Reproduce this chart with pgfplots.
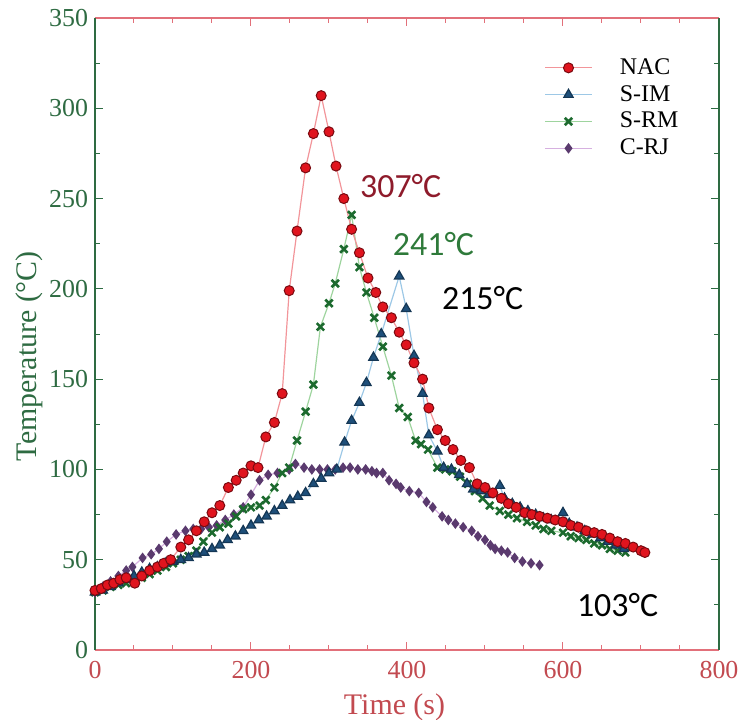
\documentclass[border=0pt]{standalone}
\usepackage{fontspec}
\setmainfont{Liberation Serif}
\newfontfamily\annfont{Carlito}
\usepackage{pgfplots}
\pgfplotsset{compat=1.18}

\definecolor{nacfill}{HTML}{E0141E}
\definecolor{nacedge}{HTML}{7A0A10}
\definecolor{nacline}{HTML}{F2959A}
\definecolor{imfill}{HTML}{1E4F7A}
\definecolor{imline}{HTML}{9DC8E6}
\definecolor{rmmark}{HTML}{1C6A2E}
\definecolor{rmline}{HTML}{9ED49E}
\definecolor{rjmark}{HTML}{5A3A6E}
\definecolor{rjline}{HTML}{D6B0E0}
\definecolor{axred}{HTML}{E2707A}
\definecolor{axgreen}{HTML}{2E6B42}
\definecolor{lblred}{HTML}{C24A50}
\definecolor{t307}{HTML}{8E1B2B}
\definecolor{t241}{HTML}{2E7A3A}

\begin{document}
\begin{tikzpicture}
\useasboundingbox (-47.5bp,-35bp) rectangle (321.5bp,325bp);
\begin{axis}[
  at={(0,0)}, anchor=south west,
  width=312bp, height=316bp, scale only axis,
  xmin=0, xmax=800, ymin=0, ymax=350,
  xtick={0,200,...,800}, ytick={0,50,...,350},
  minor x tick num=3, minor y tick num=1,
  separate axis lines,
  x axis line style={axred, line width=0.9bp},
  y axis line style={axgreen, line width=0.9bp},
  x tick style={axred, line width=0.5bp},
  y tick style={axgreen, line width=0.5bp},
  major tick length=4bp, minor tick length=2.5bp,
  /pgf/number format/assume math mode=true,
  xticklabel style={font=\fontsize{13}{13}\selectfont, text=lblred, yshift=-2bp},
  yticklabel style={font=\fontsize{13}{13}\selectfont, text=axgreen},
  xlabel={Time (s)},
  ylabel={Temperature (°C)},
  xlabel style={font=\fontsize{15}{15}\selectfont, text=lblred,
    at={(axis description cs:0.48,-0.090)}, anchor=center},
  ylabel style={font=\fontsize{15}{15}\selectfont, text=axgreen,
    at={(axis description cs:-0.106,0.465)}, anchor=center},
  legend style={at={(rel axis cs:0.71,0.948)}, anchor=north west,
    draw=none, fill=none, font=\fontsize{12}{12}\selectfont,
    nodes={inner sep=1.6bp}, row sep=0.8bp},
  legend cell align=left,
  /tikz/every odd column/.append style={column sep=12bp},
  legend image code/.code={\draw[mark repeat=2,mark phase=2]
    plot coordinates {(0bp,0bp) (11.75bp,0bp) (23.5bp,0bp)};},
  reverse legend,
]

% C-RJ
\addplot[rjline, line width=0.6bp, mark=diamond*, mark size=2.2bp,
  mark options={fill=rjmark, draw=rjmark}] coordinates {
(0,32) (10,35) (20,38) (30,41) (40,44) (48,46) (61,51) (72,53) (82,56)
(92,60) (104,64) (116,66) (126,67) (136,67) (146,68) (156,69) (167,72)
(178,75) (190,79) (200,86) (211,94) (222,97) (234,98) (249,100) (257,103)
(268,101) (278,100) (288,100) (298,100) (308,100) (318,101) (327,101)
(337,100) (347,100) (355,99) (361,98) (369,98) (377,94) (386,92) (392,90)
(403,88) (415,87) (425,82) (433,79) (445,74) (453,72) (462,70) (472,68)
(483,66) (491,63) (500,61) (507,58) (513,56) (521,55) (529,54) (538,51)
(548,49) (559,48) (570,47)};

% S-RM
\addplot[rmline, line width=0.6bp, mark=x, mark size=2.6bp,
  mark options={draw=rmmark, line width=1.3bp}] coordinates {
(0,32) (10,33) (20,35) (30,36) (40,37) (50,39) (60,40) (70,42) (80,44)
(91,46) (100,48) (110,50) (120,52) (130,55) (139,60) (150,65) (160,68)
(171,70) (181,74) (190,78) (200,79) (211,80) (219,83) (230,90) (240,98)
(249,101) (259,116) (270,132) (280,147) (289,179) (300,192) (308,203)
(319,222) (329,241) (339,212) (348,198) (358,184) (369,168) (380,152)
(390,134) (401,129) (411,116) (418,114) (427,111) (439,101) (449,100)
(458,99) (468,96) (478,92) (487,88) (497,84) (506,80) (519,77) (530,75)
(541,73) (554,71) (565,69) (575,67) (585,66) (600,65) (610,63) (620,62)
(630,61) (640,59) (650,58) (660,56) (670,55) (680,54)};

% S-IM
\addplot[imline, line width=0.6bp, mark=triangle*, mark size=2.7bp,
  mark options={fill=imfill, draw=imfill!70!black}] coordinates {
(0,32) (10,33) (20,35) (30,37) (40,39) (50,41) (60,43) (70,45) (80,46)
(90,48) (100,49) (110,50) (120,51) (130,53) (140,54) (150,56) (160,58)
(170,61) (180,63) (190,66) (200,69) (210,72) (220,74) (230,77) (240,80)
(250,83) (260,85) (270,87) (280,92) (290,95) (300,98) (310,100) (320,115)
(329,127) (339,137) (348,148) (357,162) (367,175) (390,207) (399,189)
(409,163) (420,142) (428,119) (439,110) (447,101) (457,100) (467,97)
(477,92) (485,89) (495,88) (505,86) (519,91) (525,84) (535,81) (545,79)
(555,77) (565,75) (575,73) (585,72) (600,76) (608,70) (618,68) (628,66)
(638,64) (648,62) (658,60) (668,58) (678,56)};

% NAC
\addplot[nacline, line width=0.6bp, mark=*, mark size=2.5bp,
  mark options={fill=nacfill, draw=nacedge, line width=0.5bp}] coordinates {
(0,33) (8,34) (16,36) (24,37) (32,39) (40,40) (51,37) (60,41) (70,44)
(80,46) (88,48) (97,50) (110,57) (120,61) (130,66) (140,71) (150,76)
(160,80) (171,90) (181,94) (190,98) (200,102) (209,101) (219,118)
(230,126) (240,142) (249,199) (259,232) (270,267) (280,286) (290,307)
(300,287) (309,268) (319,250) (329,233) (339,220) (350,206) (360,198)
(369,190) (380,184) (390,176) (399,169) (409,159) (420,150) (428,134)
(439,122) (449,116) (459,111) (469,105) (480,101) (490,92) (500,90)
(510,87) (521,84) (530,81) (540,79) (551,76) (560,75) (570,74) (580,73)
(590,72) (600,71) (610,69) (620,68) (630,66) (640,65) (650,64) (660,62)
(670,60) (680,59) (690,57) (700,55) (705,54)};

\legend{C-RJ, S-RM, S-IM, NAC}

\node[font=\annfont\fontsize{17}{17}\selectfont, text=t307] at (axis cs:392,257) {307°C};
\node[font=\annfont\fontsize{17}{17}\selectfont, text=t241] at (axis cs:434,225) {241°C};
\node[font=\annfont\fontsize{17}{17}\selectfont, text=black] at (axis cs:497,195) {215°C};
\node[font=\annfont\fontsize{17}{17}\selectfont, text=black] at (axis cs:670,25) {103°C};
\end{axis}
\end{tikzpicture}
\end{document}
